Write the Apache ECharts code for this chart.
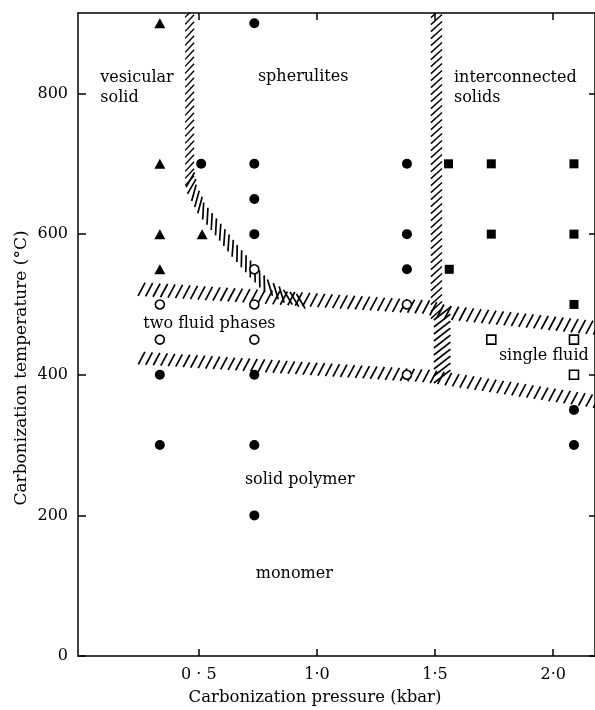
<!DOCTYPE html>
<html lang="en">
<head>
<meta charset="UTF-8">
<title>Carbonization temperature vs pressure</title>
<script src="https://cdn.jsdelivr.net/npm/echarts@6/dist/echarts.min.js"></script>
<style>html,body{margin:0;padding:0;background:#fff}</style>
</head>
<body>
<div id="chart" style="width:595px;height:710px"></div>
<script>
// points: [pressure (kbar), temperature (C)]
var triFilled = [[0.335, 900], [0.335, 700], [0.335, 600], [0.335, 550], [0.514, 600]];
var circFilled = [[0.735, 900], [0.51, 700], [0.735, 700], [0.735, 650], [0.735, 600],
    [0.335, 400], [0.735, 400], [0.335, 300], [0.735, 300], [0.735, 200],
    [1.381, 700], [1.381, 600], [1.381, 550], [2.088, 350], [2.088, 300]];
var circOpen = [[0.735, 550], [0.335, 500], [0.735, 500], [0.335, 450], [0.735, 450], [1.381, 500], [1.381, 400]];
var sqFilled = [[1.557, 700], [1.738, 700], [2.088, 700], [1.738, 600], [2.088, 600], [1.56, 550], [2.088, 500]];
var sqOpen = [[1.738, 450], [2.088, 450], [2.088, 400]];

// hatched phase boundaries (centre lines)
var bandLeftVert = [[0.461, 930], [0.461, 675]];
var bandLeftCurve = [[0.461, 682], [0.473, 663], [0.516, 634], [0.583, 606], [0.650, 577],
    [0.722, 549], [0.781, 528], [0.861, 512], [0.946, 503]];
var bandUpper = [[0.242, 522], [1.473, 496], [1.536, 489], [2.2, 466]];
var bandLower = [[0.242, 424], [1.473, 398], [2.2, 361]];
var bandMidVert = [[1.506, 930], [1.506, 486]];
var bandMidVertLow = [[1.530, 492], [1.530, 388]];

// region names
var regions = [
    {name: 'vesicular\nsolid', value: [0.081, 808]},
    {name: 'spherulites', value: [0.748, 823]},
    {name: 'interconnected\nsolids', value: [1.578, 808]},
    {name: 'two fluid phases', value: [0.263, 472]},
    {name: 'single fluid', value: [1.768, 427]},
    {name: 'solid polymer', value: [0.693, 250]},
    {name: 'monomer', value: [0.739, 117]}
];

var xTickValues = [0.5, 1.0, 1.5, 2.0];
var xTickLabels = ['0 · 5', '1·0', '1·5', '2·0'];
var yTickValues = [0, 200, 400, 600, 800];

var FONT = '"DejaVu Serif", "Liberation Serif", serif';
var INK = '#000';

// how each boundary is hatched: stroke angle (deg, or rel = relative to the line), length, spacing
var bandStyles = [
    {pts: bandLeftVert, ang: 47, len: 13, step: 7, lw: 1.4},
    {pts: bandLeftCurve, rel: -42, len: 17, step: 6.8, lw: 1.7},
    {pts: bandUpper, ang: 62, len: 15, step: 7.5, lw: 1.7},
    {pts: bandLower, ang: 62, len: 14, step: 7.5, lw: 1.7},
    {pts: bandMidVert, ang: 42, len: 15, step: 7, lw: 1.4},
    {pts: bandMidVertLow, ang: 38, len: 21, step: 7, lw: 1.7}
];

function renderBand(params, api) {
    var b = bandStyles[params.dataIndex];
    var pts = b.pts.map(function (p) { return api.coord(p); });
    var children = [];
    var carry = b.step / 2;
    for (var i = 0; i < pts.length - 1; i++) {
        var x0 = pts[i][0], y0 = pts[i][1], x1 = pts[i + 1][0], y1 = pts[i + 1][1];
        var seg = Math.sqrt((x1 - x0) * (x1 - x0) + (y1 - y0) * (y1 - y0));
        var deg = b.rel != null ? Math.atan2(y0 - y1, x1 - x0) * 180 / Math.PI + b.rel : b.ang;
        var a = deg * Math.PI / 180;
        var ux = Math.cos(a) * b.len / 2, uy = -Math.sin(a) * b.len / 2;
        var d = carry;
        while (d <= seg) {
            var t = d / seg;
            var cx = x0 + (x1 - x0) * t, cy = y0 + (y1 - y0) * t;
            children.push({
                type: 'line',
                shape: {x1: cx - ux, y1: cy - uy, x2: cx + ux, y2: cy + uy},
                style: {stroke: INK, lineWidth: b.lw}
            });
            d += b.step;
        }
        carry = d - seg;
    }
    return {type: 'group', children: children};
}

var xMin = -0.0114, xMax = 2.177, yMax = 914.5;
var axisLineStyle = {color: INK, width: 1.5};

var myChart = echarts.init(document.getElementById('chart'));
var option = {
    backgroundColor: '#fff',
    animation: false,
    grid: {left: 78, right: -2, top: 13, bottom: 54},
    xAxis: [{
        type: 'value', position: 'bottom', min: xMin, max: xMax,
        axisLine: {show: true, onZero: false, lineStyle: axisLineStyle},
        axisTick: {show: true, inside: true, length: 7, customValues: xTickValues, lineStyle: axisLineStyle},
        axisLabel: {
            customValues: xTickValues, margin: 11, color: INK, fontFamily: FONT, fontSize: 16,
            formatter: function (v) { return xTickLabels[xTickValues.indexOf(v)]; }
        },
        splitLine: {show: false}
    }, {
        type: 'value', position: 'top', min: xMin, max: xMax,
        axisLine: {show: true, onZero: false, lineStyle: axisLineStyle},
        axisTick: {show: true, inside: true, length: 7, customValues: xTickValues, lineStyle: axisLineStyle},
        axisLabel: {show: false},
        splitLine: {show: false}
    }],
    yAxis: [{
        type: 'value', position: 'left', min: 0, max: yMax,
        axisLine: {show: true, onZero: false, lineStyle: axisLineStyle},
        axisTick: {show: true, inside: true, length: 8, customValues: yTickValues, lineStyle: axisLineStyle},
        axisLabel: {customValues: yTickValues, margin: 10, color: INK, fontFamily: FONT, fontSize: 16},
        splitLine: {show: false}
    }, {
        type: 'value', position: 'right', min: 0, max: yMax,
        axisLine: {show: true, onZero: false, lineStyle: axisLineStyle},
        axisTick: {show: true, inside: true, length: 6, customValues: yTickValues, lineStyle: axisLineStyle},
        axisLabel: {show: false},
        splitLine: {show: false}
    }],
    graphic: [{
        type: 'text', x: 22, y: 368, rotation: Math.PI / 2,
        style: {text: 'Carbonization temperature (°C)', font: '17px ' + FONT, fill: INK, align: 'center', verticalAlign: 'middle'}
    }, {
        type: 'text', x: 315, y: 698,
        style: {text: 'Carbonization pressure (kbar)', font: '16.5px ' + FONT, fill: INK, align: 'center', verticalAlign: 'middle'}
    }],
    series: [
        {
            type: 'custom', renderItem: renderBand, clip: true, silent: true, z: 1,
            data: bandStyles.map(function (b) { return b.pts[0]; })
        },
        {
            type: 'scatter', data: triFilled, symbol: 'triangle', symbolSize: [11, 10], z: 5,
            itemStyle: {color: INK, opacity: 1}
        }, {
            type: 'scatter', data: circFilled, symbol: 'circle', symbolSize: 10, z: 5,
            itemStyle: {color: INK, opacity: 1}
        }, {
            type: 'scatter', data: circOpen, symbol: 'circle', symbolSize: 9, z: 5,
            itemStyle: {color: '#fff', borderColor: INK, borderWidth: 1.6, opacity: 1}
        }, {
            type: 'scatter', data: sqFilled, symbol: 'rect', symbolSize: 9, z: 5,
            itemStyle: {color: INK, opacity: 1}
        }, {
            type: 'scatter', data: sqOpen, symbol: 'rect', symbolSize: 9, z: 5,
            itemStyle: {color: '#fff', borderColor: INK, borderWidth: 1.6, opacity: 1}
        }, {
            type: 'scatter', data: regions, symbolSize: 1, silent: true, z: 6,
            itemStyle: {color: 'rgba(0,0,0,0)', opacity: 1},
            label: {
                show: true, position: 'right', distance: 0, formatter: '{b}',
                color: INK, fontFamily: FONT, fontSize: 16, lineHeight: 20, align: 'left'
            }
        }
    ]
};
myChart.setOption(option);
</script>
</body>
</html>
